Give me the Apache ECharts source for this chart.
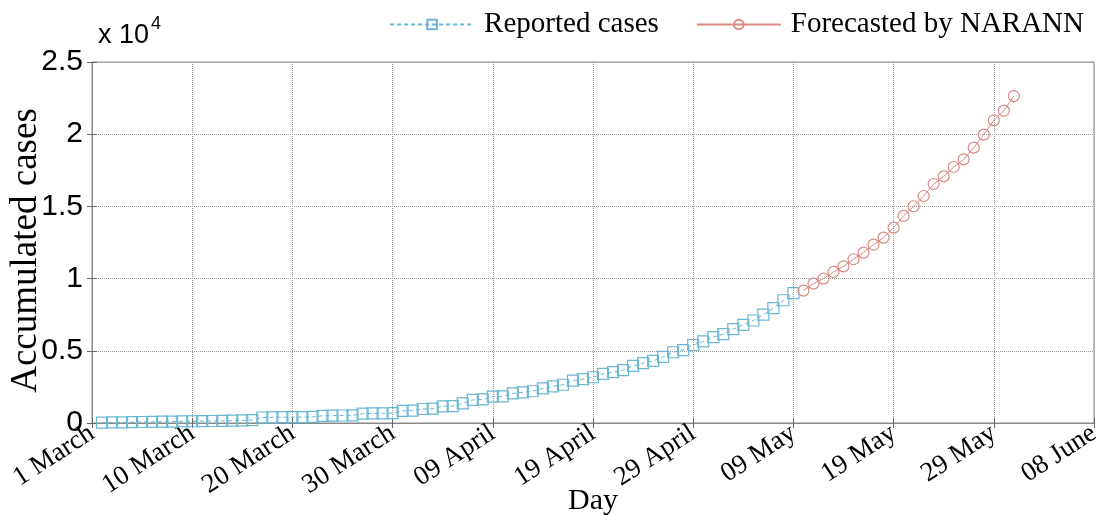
<!DOCTYPE html>
<html><head><meta charset="utf-8">
<script src="https://cdn.jsdelivr.net/npm/echarts@6/dist/echarts.min.js"></script>
<style>html,body{margin:0;padding:0;background:#fff}#c{width:1103px;height:515px}</style>
</head><body><div id="c"></div>
<script>
// Day labels at ticks 0,10,...,100
const tickLabels = ['1 March','10 March','20 March','30 March','09 April','19 April','29 April','09 May','19 May','29 May','08 June'];
// Reported cases, days 1..70
const reportedStartDay = 1;
const reportedCases = [30,40,50,60,70,80,90,100,110,120,130,140,150,160,180,200,
  380,390,400,400,410,420,
  500,510,520,530,
  650,660,670,690,
  840,860,970,990,1150,1170,1360,1600,1630,1820,1850,2050,2120,2200,2400,2540,2650,2940,3040,3170,
  3400,3520,3660,3950,4150,4300,4580,4900,5050,5400,5650,5950,6150,6500,6800,7100,7500,7950,8500,9000];
// Forecasted by NARANN, days 71..92
const forecastStartDay = 71;
const forecastCases = [9170,9650,10000,10460,10850,11340,11800,12350,12840,13530,14340,15010,15720,16550,17080,17730,18260,19070,19970,20960,21630,22640];

const toPairs = (start, arr) => arr.map((v, i) => [start + i, v]);
const serif = 'Liberation Serif';
const sans = 'Liberation Sans';
const blue = '#6bb7d1';
const red = '#d98a84';

const chart = echarts.init(document.getElementById('c'), null, {renderer: 'canvas'});
chart.setOption({
  animation: false,
  backgroundColor: '#fff',
  grid: {left: 92, right: 9, top: 62, bottom: 92, show: true, borderColor: '#888', borderWidth: 1,
         containLabel: false, outerBoundsMode: 'none'},
  title: {
    text: '{a|x 10}{b|4}', left: 93, top: 10,
    textStyle: {fontWeight: 'normal', rich: {
      a: {fontFamily: sans, fontSize: 27, fontWeight: 'normal', color: '#000', verticalAlign: 'bottom'},
      b: {fontFamily: sans, fontSize: 18, fontWeight: 'normal', color: '#000', verticalAlign: 'top', padding: [0, 0, 16, 2]}
    }}
  },
  legend: {
    top: 5, right: 14, itemWidth: 84, itemHeight: 12, itemGap: 37,
    textStyle: {fontFamily: serif, fontSize: 29, color: '#000', padding: [0, 0, 0, 5]},
    data: [{name: 'Reported cases'}, {name: 'Forecasted by NARANN'}]
  },
  xAxis: [{
    type: 'value', min: 0, max: 100, interval: 10,
    name: 'Day', nameLocation: 'middle', nameGap: 63, nameMoveOverlap: false,
    nameTextStyle: {fontFamily: serif, fontSize: 30, color: '#000'},
    axisLine: {show: true, lineStyle: {color: '#888'}},
    axisTick: {show: true, inside: true, length: 5, lineStyle: {color: '#666'}},
    axisLabel: {
      rotate: 33, fontFamily: serif, fontSize: 27, color: '#000', margin: 8,
      formatter: v => tickLabels[Math.round(v / 10)] || ''
    },
    splitLine: {show: true, lineStyle: {color: '#999', type: [1, 1], width: 1}}
  }, {
    type: 'value', min: 0, max: 100, interval: 10, position: 'top',
    axisLine: {show: false}, axisLabel: {show: false},
    axisTick: {show: true, inside: true, length: 5, lineStyle: {color: '#666'}},
    splitLine: {show: false}
  }],
  yAxis: [{
    type: 'value', min: 0, max: 25000, interval: 5000,
    name: 'Accumulated cases', nameLocation: 'middle', nameGap: 47, nameRotate: 90, nameMoveOverlap: false,
    nameTextStyle: {fontFamily: serif, fontSize: 37, color: '#000', padding: [0, 16, 0, 0]},
    axisLine: {show: true, lineStyle: {color: '#888'}},
    axisTick: {show: true, inside: true, length: 5, lineStyle: {color: '#666'}},
    axisLabel: {fontFamily: sans, fontSize: 30, color: '#000', margin: 9,
      formatter: v => String(v / 10000)},
    splitLine: {show: true, lineStyle: {color: '#999', type: [1, 1], width: 1}}
  }, {
    type: 'value', min: 0, max: 25000, interval: 5000, position: 'right',
    axisLine: {show: false}, axisLabel: {show: false},
    axisTick: {show: true, inside: true, length: 5, lineStyle: {color: '#666'}},
    splitLine: {show: false}
  }],
  series: [{
    name: 'Reported cases', type: 'line', data: toPairs(reportedStartDay, reportedCases),
    symbol: 'rect', symbolSize: [11, 11], showAllSymbol: true,
    lineStyle: {color: blue, width: 1, type: [4, 3]},
    itemStyle: {color: 'rgba(255,255,255,0)', borderColor: blue, borderWidth: 1.2},
    emphasis: {disabled: true}
  }, {
    name: 'Forecasted by NARANN', type: 'line', data: toPairs(forecastStartDay, forecastCases),
    symbol: 'circle', symbolSize: 11, showAllSymbol: true,
    lineStyle: {color: red, width: 1},
    itemStyle: {color: 'rgba(255,255,255,0)', borderColor: red, borderWidth: 1.2},
    emphasis: {disabled: true}
  }]
});
</script></body></html>
